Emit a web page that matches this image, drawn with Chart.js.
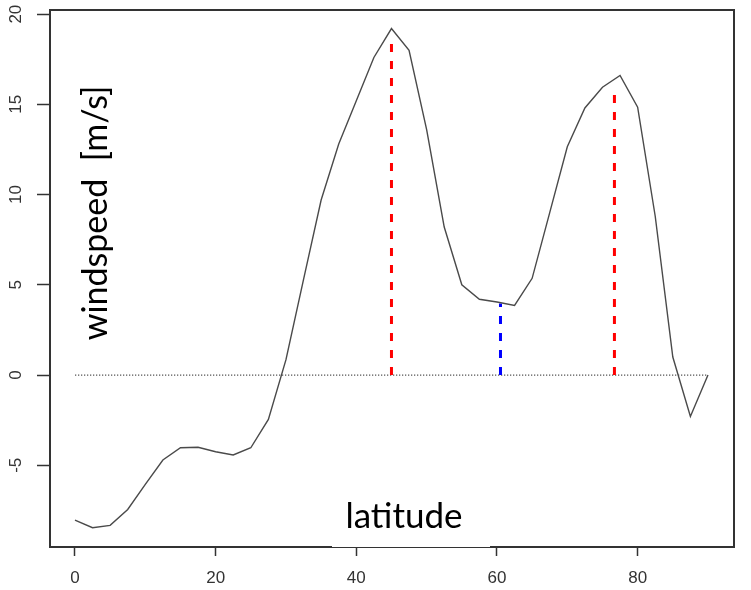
<!DOCTYPE html>
<html>
<head>
<meta charset="utf-8">
<script src="https://cdn.jsdelivr.net/npm/chart.js@4.4.0/dist/chart.umd.min.js"></script>
<style>
  html, body { margin: 0; padding: 0; background: #fff; }
  #wrap { width: 751px; height: 590px; }
</style>
</head>
<body>
<div id="wrap"><canvas id="chart_1" width="751" height="590"></canvas></div>
<script>
// latitude (deg) and zonal windspeed (m/s)
var latitudes = [0, 2.5, 5, 7.5, 10, 12.5, 15, 17.5, 20, 22.5, 25, 27.5, 30, 32.5, 35, 37.5, 40, 42.5, 45, 47.5,
                 50, 52.5, 55, 57.5, 60, 62.5, 65, 67.5, 70, 72.5, 75, 77.5, 80, 82.5, 85, 87.5, 90];
var windspeed = [-8.04, -8.46, -8.33, -7.45, -6.06, -4.71, -4.03, -4.0, -4.25, -4.43, -4.03, -2.46, 0.85, 5.3, 9.7, 12.8, 15.2, 17.6, 19.2, 18.0,
                 13.6, 8.2, 5.0, 4.2, 4.05, 3.86, 5.36, 9.0, 12.65, 14.8, 15.95, 16.6, 14.84, 8.8, 1.0, -2.3, 0];

// jet maxima (red) and minimum between them (blue)
var peakLat = [45, 76.7];
var peakTop = [18.8, 15.8];
var troughLat = [60.5];
var troughTop = [3.97];

// zero reference line
var zeroFrom = 0, zeroTo = 90;

var xTicks = [0, 20, 40, 60, 80];
var yTicks = [-5, 0, 5, 10, 15, 20];

var xLabel = "latitude";
var yLabel = "windspeed  [m/s]";

function stems(lats, tops, color) {
  return lats.map(function(lat, i) {
    return {
      data: [{x: lat, y: 0}, {x: lat, y: tops[i]}],
      borderColor: color,
      borderWidth: 3,
      borderDash: [8, 9],
      pointRadius: 0
    };
  });
}

var datasets = [{
  data: latitudes.map(function(lat, i) { return {x: lat, y: windspeed[i]}; }),
  borderColor: '#4a4a4a',
  borderWidth: 1.4,
  pointRadius: 0,
  tension: 0
}].concat(stems(peakLat, peakTop, '#ff0000'))
  .concat(stems(troughLat, troughTop, '#0000ff'))
  .concat([{
    data: [{x: zeroFrom, y: 0}, {x: zeroTo, y: 0}],
    borderColor: '#555',
    borderWidth: 1.3,
    borderDash: [1.3, 1.7],
    pointRadius: 0
  }]);

// R-style box, rotated y tick labels and the overlaid axis titles
var rPlot = {
  id: 'rPlot',
  beforeDraw: function(chart) {
    var ctx = chart.ctx;
    ctx.save();
    ctx.fillStyle = '#fff';
    ctx.fillRect(0, 0, chart.width, chart.height);
    ctx.restore();
  },
  afterDraw: function(chart) {
    var ctx = chart.ctx, a = chart.chartArea, ys = chart.scales.y;
    ctx.save();
    ctx.strokeStyle = '#333';
    ctx.lineWidth = 2;
    ctx.strokeRect(a.left, a.top, a.right - a.left, a.bottom - a.top);

    ctx.fillStyle = '#333';
    ctx.font = '17px "Liberation Sans", Arial, sans-serif';
    ctx.textAlign = 'center';
    ctx.textBaseline = 'middle';
    yTicks.forEach(function(v) {
      ctx.save();
      ctx.translate(16, ys.getPixelForValue(v));
      ctx.rotate(-Math.PI / 2);
      ctx.fillText(String(v), 0, 0);
      ctx.restore();
    });

    // white text box of the latitude title (hides upper half of the axis line)
    ctx.fillStyle = '#fff';
    ctx.fillRect(332, 488, 158, a.bottom - 488);

    ctx.fillStyle = '#000';
    ctx.font = '35px Lato, "Open Sans", sans-serif';
    ctx.textBaseline = 'alphabetic';
    ctx.fillText(xLabel, 404, 528);

    ctx.font = '34px Lato, "Open Sans", sans-serif';
    ctx.save();
    ctx.translate(107, 213);
    ctx.rotate(-Math.PI / 2);
    ctx.fillText(yLabel, 0, 0);
    ctx.restore();
    ctx.restore();
  }
};

var ctx = document.getElementById('chart_1').getContext('2d');
var chart = new Chart(ctx, {
  type: 'line',
  data: { datasets: datasets },
  options: {
    responsive: false,
    animation: false,
    devicePixelRatio: 1,
    layout: { padding: { top: 10, right: 17, left: 0, bottom: 0 } },
    plugins: { legend: { display: false }, tooltip: { enabled: false } },
    scales: {
      x: {
        type: 'linear',
        min: -3.55,
        max: 93.7,
        afterBuildTicks: function(s) { s.ticks = xTicks.map(function(v) { return {value: v}; }); },
        afterFit: function(s) { s.height = 43; },
        border: { display: false },
        grid: { drawOnChartArea: false, drawTicks: true, tickLength: 9, tickColor: '#333', tickWidth: 1.5 },
        ticks: { color: '#333', font: { family: '"Liberation Sans", Arial, sans-serif', size: 17 }, padding: 12, maxRotation: 0 }
      },
      y: {
        type: 'linear',
        min: -9.53,
        max: 20.23,
        afterBuildTicks: function(s) { s.ticks = yTicks.map(function(v) { return {value: v}; }); },
        afterFit: function(s) { s.width = 50; },
        border: { display: false },
        grid: { drawOnChartArea: false, drawTicks: true, tickLength: 13, tickColor: '#333', tickWidth: 1.5 },
        ticks: { display: false }
      }
    }
  },
  plugins: [rPlot]
});
</script>
</body>
</html>
